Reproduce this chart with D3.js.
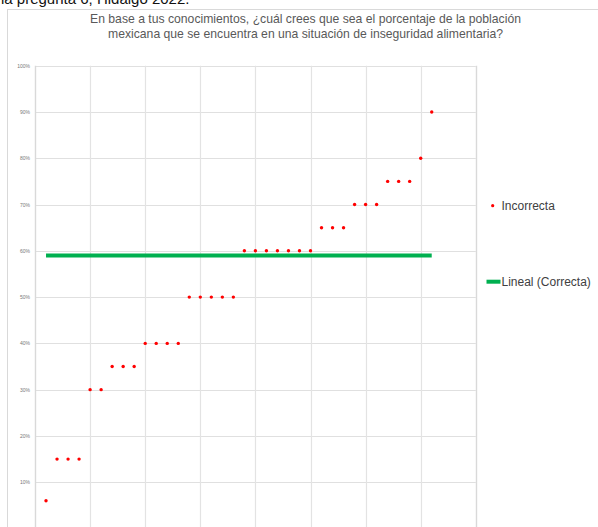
<!DOCTYPE html>
<html>
<head>
<meta charset="utf-8">
<script src="https://cdn.jsdelivr.net/npm/d3@7"></script>
<style>
  html, body { margin: 0; padding: 0; background: #fff; overflow: hidden; }
  svg { display: block; font-family: "Liberation Sans", Arial, sans-serif; }
</style>
</head>
<body>
<script>
// ---- data ----
const respondents = [1,2,3,4,5,6,7,8,9,10,11,12,13,14,15,16,17,18,19,20,21,22,23,24,25,26,27,28,29,30,31,32,33,34,35,36];
const answers = [6,15,15,15,30,30,35,35,35,40,40,40,40,50,50,50,50,50,60,60,60,60,60,60,60,65,65,65,70,70,70,75,75,75,80,90];
const correctValue = [59];
const correctRange = [1, 36];
const yTicks = [0,10,20,30,40,50,60,70,80,90,100];
const xTicks = [0,5,10,15,20,25,30,35,40];
const titleLines = [
  "En base a tus conocimientos, ¿cuál crees que sea el porcentaje de la población",
  "mexicana que se encuentra en una situación de inseguridad alimentaria?"
];
const legendLabels = ["Incorrecta", "Lineal (Correcta)"];
const headerText = "la pregunta 6, Hidalgo 2022.";

const W = 598, H = 527;
const svg = d3.select("body").append("svg").attr("width", W).attr("height", H);

// header text clipped at top
svg.append("text").attr("x", 1).attr("y", 3.5)
  .attr("font-size", 15).attr("fill", "#111").text(headerText);

// chart frame
svg.append("rect").attr("x", 7.5).attr("y", 9.5).attr("width", 700).attr("height", 600)
  .attr("fill", "#fff").attr("stroke", "#d9d9d9").attr("stroke-width", 1);

// title
svg.append("g").selectAll("text").data(titleLines).join("text")
  .attr("x", 305.5).attr("y", (d, i) => 23 + i * 14.5)
  .attr("text-anchor", "middle").attr("font-size", 12.2).attr("fill", "#595959")
  .text(d => d);

const x = d3.scaleLinear().domain([0, 40]).range([35, 475.8]);
const y = d3.scaleLinear().domain([0, 100]).range([528.5, 65.7]);

// gridlines
const grid = svg.append("g");
grid.selectAll("line.h").data(yTicks).join("line").attr("class", "h")
  .attr("x1", x(0)).attr("x2", x(40))
  .attr("y1", d => Math.round(y(d)) + 0.5).attr("y2", d => Math.round(y(d)) + 0.5)
  .attr("stroke", "#e0e0e0").attr("stroke-width", 1);
grid.selectAll("line.v").data(xTicks).join("line").attr("class", "v")
  .attr("x1", d => Math.round(x(d)) + 0.5).attr("x2", d => Math.round(x(d)) + 0.5)
  .attr("y1", y(100)).attr("y2", y(0))
  .attr("stroke", d => (d === 0 || d === 40) ? "#d9d9d9" : "#e3e3e3")
  .attr("stroke-width", d => (d === 0 || d === 40) ? 1.4 : 1.2);

// y axis labels
const yAxis = d3.axisLeft(y).tickValues(yTicks).tickFormat(d => d + "%").tickSize(0).tickPadding(5);
const gy = svg.append("g").attr("transform", `translate(${x(0)},0)`).call(yAxis);
gy.select(".domain").remove();
gy.selectAll("text").attr("font-size", 5).attr("fill", "#777")
  .attr("font-family", "Liberation Sans, Arial, sans-serif");

// trend line (correct answer)
svg.append("line")
  .attr("x1", x(correctRange[0])).attr("x2", x(correctRange[1]))
  .attr("y1", y(correctValue[0])).attr("y2", y(correctValue[0]))
  .attr("stroke", "#00b050").attr("stroke-width", 4);

// points
svg.append("g").selectAll("circle").data(respondents).join("circle")
  .attr("cx", d => x(d)).attr("cy", (d, i) => y(answers[i]))
  .attr("r", 1.7).attr("fill", "#ff0000");

// legend
const lg = svg.append("g");
lg.append("circle").attr("cx", 492.7).attr("cy", 205.7).attr("r", 1.6).attr("fill", "#ff0000");
lg.append("text").attr("x", 501.5).attr("y", 209.8).attr("font-size", 12).attr("fill", "#404040").text(legendLabels[0]);
lg.append("line").attr("x1", 486.5).attr("x2", 500.5).attr("y1", 281.7).attr("y2", 281.7)
  .attr("stroke", "#00b050").attr("stroke-width", 4);
lg.append("text").attr("x", 501.5).attr("y", 285.8).attr("font-size", 12).attr("fill", "#404040").text(legendLabels[1]);
</script>
</body>
</html>
